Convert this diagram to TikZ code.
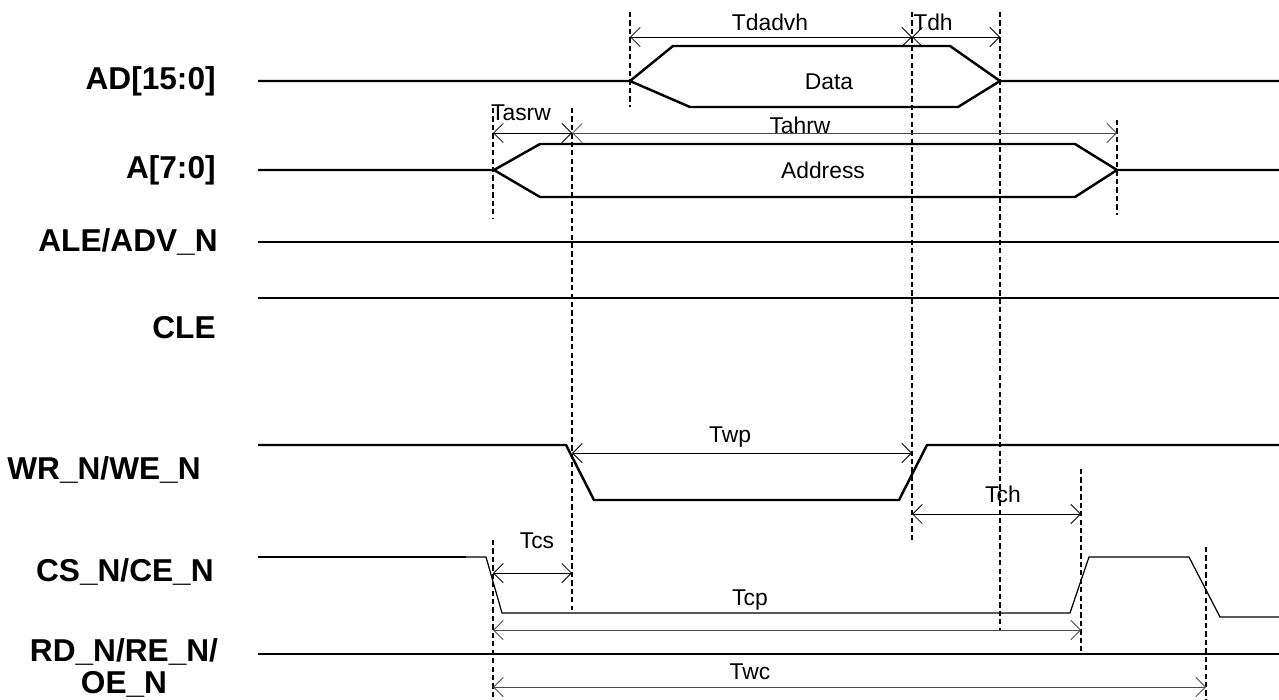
\documentclass[tikz,border=0pt]{standalone}
\usepackage{fontspec}
\setmainfont{Liberation Sans}
\usetikzlibrary{arrows.meta}

\begin{document}
\begin{tikzpicture}[
                        x=0.02cm,
                        y=-0.02cm,
                        signame/.style={
                            anchor=east,
                            inner sep=0pt,
                            align=center,
                            font=\bfseries\fontsize{18}{18.5}\selectfont
                        },
                        timing/.style={
                            inner sep=0pt,
                            font=\fontsize{13}{15}\selectfont
                        },
                        wave/.style={
                            draw,
                            line width=1.4pt
                        },
                        thinwave/.style={
                            draw,
                            line width=0.7pt
                        },
                        guide/.style={
                            draw,
                            line width=0.6pt,
                            dash pattern=on 3pt off 1.8pt
                        },
                        dim/.style={
                            draw,
                            line width=0.5pt,
                            {Straight Barb[length=5.5pt,width=11pt]}-{Straight Barb[length=5.5pt,width=11pt]}
                        }]

                        \useasboundingbox (0,0) rectangle (1279,700);

                        % signal names
                        \node (ad_name) [signame] at (216,81) {AD[15:0]};
                        \node (a_name) [signame] at (216,170) {A[7:0]};
                        \node (ale_name) [signame] at (218,242) {ALE/ADV\_N};
                        \node (cle_name) [signame] at (216,328) {CLE};
                        \node (wr_name) [signame] at (201,470) {WR\_N/WE\_N};
                        \node (cs_name) [signame] at (214,572) {CS\_N/CE\_N};
                        \node (rd_name) [signame, anchor=center] at (124,668) {RD\_N/RE\_N/\\OE\_N};

                        % waves
                        \draw [wave] (258,81) -- (630,81) -- (673,46) -- (950,46) -- (1000,81) -- (1279,81);
                        \draw [wave] (630,81) -- (690,107) -- (958,107) -- (1000,81);
                        \draw [wave] (258,170) -- (494,170) -- (540,144) -- (1075,144) -- (1117,170) -- (1279,170);
                        \draw [wave] (494,170) -- (540,197) -- (1075,197) -- (1117,170);
                        \draw [wave] (258,242) -- (1279,242);
                        \draw [wave] (258,298) -- (1279,298);
                        \draw [wave] (258,445) -- (566,445) -- (594,500) -- (899,500) -- (927,445) -- (1279,445);
                        \draw [wave] (258,557) -- (466,557);
                        \draw [thinwave] (466,557) -- (486,557) -- (502,613) -- (1070,613) -- (1089,557)
                            -- (1189,557) -- (1220,617) -- (1279,617);
                        \draw [wave] (258,654) -- (1279,654);

                        \node (data) [timing] at (829,82) {Data};
                        \node (address) [timing] at (823,170) {Address};

                        % guides
                        \draw [guide] (630,12) -- (630,107);
                        \draw [guide] (912,12) -- (912,540);
                        \draw [guide] (1000,12) -- (1000,630);
                        \draw [guide] (493,108) -- (493,218);
                        \draw [guide] (572,108) -- (572,610);
                        \draw [guide] (1117,120) -- (1117,215);
                        \draw [guide] (1081,469) -- (1081,654);
                        \draw [guide] (493,540) -- (493,700);
                        \draw [guide] (1206,547) -- (1206,700);

                        % timings
                        \draw [dim] (630,37) -- (912,37);
                        \draw [dim] (912,37) -- (1000,37);
                        \draw [dim] (493,133) -- (572,133);
                        \draw [dim, black!70] (572,133) -- (1117,133);
                        \draw [dim] (572,453) -- (912,453);
                        \draw [dim] (912,514) -- (1081,514);
                        \draw [dim] (493,573) -- (572,573);
                        \draw [dim, black!70] (493,630) -- (1081,630);
                        \draw [dim, black!70] (493,687) -- (1206,687);

                        \node (tdadvh) [timing] at (770,22) {Tdadvh};
                        \node (tdh) [timing] at (933,22) {Tdh};
                        \node (tasrw) [timing] at (521,113) {Tasrw};
                        \node (tahrw) [timing] at (800,125) {Tahrw};
                        \node (twp) [timing] at (730,437) {Twp};
                        \node (tch) [timing] at (1003,494) {Tch};
                        \node (tcs) [timing] at (537,541) {Tcs};
                        \node (tcp) [timing] at (750,600) {Tcp};
                        \node (twc) [timing] at (750,672) {Twc};

                    \end{tikzpicture}
\end{document}
